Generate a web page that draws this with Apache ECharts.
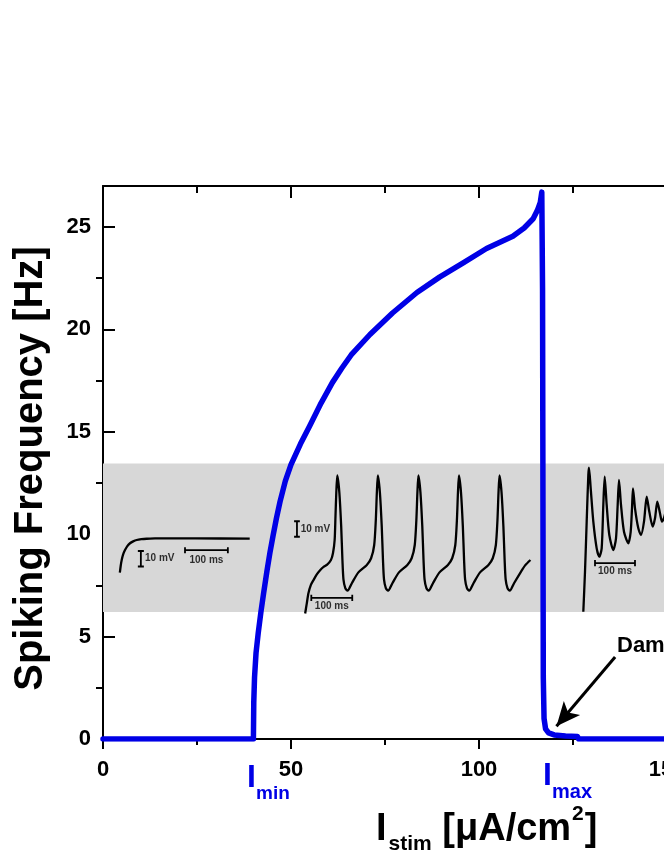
<!DOCTYPE html>
<html>
<head>
<meta charset="utf-8">
<script src="https://cdn.jsdelivr.net/npm/echarts@6/dist/echarts.min.js"></script>
<style>
  html, body { margin: 0; padding: 0; background: #fff; }
  #main { width: 664px; height: 860px; }
</style>
</head>
<body>
<div id="main"></div>
<script>
// f-I curve: stimulus current (uA/cm2) vs spiking frequency (Hz)
const stimCurrent = [0, 40.0, 40.1, 40.3, 40.7, 41.3, 42.0, 42.7, 43.6, 44.4, 45.2, 46.1, 47.1, 48.5, 50.0,
  52.5, 55.0, 58.0, 61.0, 63.5, 66.0, 71.0, 77.0, 83.5, 89.5, 95.8, 102.0, 109.0, 112.0, 114.4, 115.5,
  116.3, 116.7, 116.9, 117.1, 117.3, 117.7, 118.5, 120.0, 123.0, 126.2, 126.5, 150];
const spikeFreq = [0, 0, 1.8, 3.0, 4.2, 5.2, 6.2, 7.1, 8.2, 9.1, 9.9, 10.75, 11.6, 12.6, 13.4,
  14.4, 15.3, 16.4, 17.4, 18.1, 18.75, 19.75, 20.8, 21.8, 22.55, 23.25, 23.95, 24.55, 24.95, 25.4, 25.8,
  26.2, 26.7, 22.0, 3.0, 1.0, 0.5, 0.3, 0.2, 0.15, 0.12, 0, 0];

const xTicks = [0, 50, 100, 150];
const yTicks = [0, 5, 10, 15, 20, 25];
const yMinorTicks = [2.5, 7.5, 12.5, 17.5, 22.5];
const bandRange = [6.2, 13.45];

// inset traces: [time ms, voltage mV]
const restTrace = [[23, -74], [25, -69.5], [27.3, -65.8], [30.5, -62.3], [35, -59.4], [40, -57], [46.7, -55],
  [54, -53.8], [62.3, -52.9], [73, -52.4], [85.6, -52.1], [105, -51.9], [124, -51.8], [200, -51.9], [326, -52]];

const spikeTrace = [[12, -79], [16, -72.5], [20, -66], [26, -60.6], [32.5, -57.4], [40, -54], [49, -51], [57, -49],
  [65, -47.7], [75, -44.5], [80, -40], [84, -31.6], [86, -16.6], [88, -1.3], [90.5, 10],
  [92, 10], [95.5, -1], [100, -23], [103, -44.5], [105.5, -57], [110, -62.6], [115.5, -64.3], [126, -59.5],
  [142, -52.5], [162.5, -47.7], [173, -43.4], [180.5, -35], [184.5, -18.7], [187, -1.3], [189.5, 10],
  [191, 10], [194.5, -1], [199, -23], [202, -44.5], [204.5, -57], [209, -62.6], [214.5, -64.3], [225, -59.5],
  [241, -52.5], [261.5, -47.7], [272, -43.4], [279.5, -35], [283.5, -18.7], [286, -1.3], [288.5, 10],
  [290, 10], [293.5, -1], [298, -23], [301, -44.5], [303.5, -57], [308, -62.6], [313.5, -64.3], [324, -59.5],
  [340, -52.5], [360.5, -47.7], [371, -43.4], [378.5, -35], [382.5, -18.7], [385, -1.3], [387.5, 10],
  [389, 10], [392.5, -1], [397, -23], [400, -44.5], [402.5, -57], [407, -62.6], [412.5, -64.3], [423, -59.5],
  [439, -52.5], [459.5, -47.7], [470, -43.4], [477.5, -35], [481.5, -18.7], [484, -1.3], [486.5, 10],
  [488, 10], [491.5, -1], [496, -23], [499, -44.5], [501.5, -57], [506, -62.6], [511.5, -64.3], [522, -59.5],
  [538, -52.5], [549, -48], [562, -44.5]];

const dampedTrace = [[8.3, -77.9], [12.5, -52.1], [16.7, -19.8], [20.8, 10.3], [22.5, 15.0], [26.7, 1.9],
  [33.3, -19.8], [41.7, -37.0], [48.3, -42.4], [54.2, -37.0], [58.3, -9.0], [61.7, 9.2], [66.7, -9.0],
  [73.3, -28.4], [83.3, -38.1], [90, -30.5], [94.2, -9.0], [97.5, 7.1], [102.5, -9.0], [110, -26.3],
  [120.8, -33.7], [126.7, -26.3], [130, -11.2], [132.5, 1.7], [137.5, -11.2], [145.8, -24.1], [152.5, -28.4],
  [160, -19.8], [166.7, -3.7], [173.3, -13.4], [181.7, -23.0], [187.5, -17.6], [193.3, -6.9], [200, -14.4],
  [205, -19.8], [210, -17.4], [217.5, -11], [225, -16], [232, -18]];

// scale bars
const restMvBar = [[65, -70], [79, -70], [72, -70], [72, -60], [65, -60], [79, -60]];
const restMsBar = [[175, -57.5], [175, -61.5], [175, -59.4], [275, -59.4], [275, -57.5], [275, -61.5]];
const spikeMvBar = [[-15, -29.5], [-1, -29.5], [-8, -29.5], [-8, -19.5], [-15, -19.5], [-1, -19.5]];
const spikeMsBar = [[27, -67], [27, -71], [27, -69], [127, -69], [127, -67], [127, -71]];
const dampedMsBar = [[37.5, -44.5], [37.5, -48.5], [37.5, -46.5], [137.5, -46.5], [137.5, -44.5], [137.5, -48.5]];

const FONT = "'Liberation Sans', Arial, sans-serif";
const BLUE = '#0000e6';

let chart = echarts.init(document.getElementById('main'));

let hiddenAxis = (grid, min, max) => ({ gridIndex: grid, type: 'value', min: min, max: max, show: false });

let trace = (idx, data, width) => ({
  type: 'line', xAxisIndex: idx, yAxisIndex: idx, data: data, symbol: 'none', smooth: width ? false : 0.25,
  lineStyle: { color: '#000', width: width || 2.3 }, z: 6, silent: true, clip: false
});

let barLabel = (idx, t, v, text, align) => ({
  type: 'scatter', xAxisIndex: idx, yAxisIndex: idx, symbolSize: 0, silent: true, z: 7,
  data: [[t, v]],
  label: {
    show: true, position: 'inside', formatter: text, align: align,
    color: '#000', fontFamily: FONT, fontWeight: 'bold', fontSize: 10
  }
});

let option = {
  animation: false,
  backgroundColor: '#fff',
  grid: [
    { left: 103, top: 186, width: 564, height: 553, outerBoundsMode: 'none' },
    { left: 110, top: 520, width: 150, height: 62, outerBoundsMode: 'none' },
    { left: 290, top: 460, width: 256, height: 155, outerBoundsMode: 'none' },
    { left: 580, top: 460, width: 140, height: 155, outerBoundsMode: 'none' }
  ],
  xAxis: [
    {
      gridIndex: 0, type: 'value', min: 0, max: 150, interval: 50,
      axisLine: { onZero: false, lineStyle: { color: '#000', width: 2 } },
      axisTick: { length: 10, lineStyle: { color: '#000', width: 2 } },
      minorTick: { show: true, splitNumber: 2, length: 6, lineStyle: { color: '#000', width: 2 } },
      axisLabel: { margin: 20, color: '#000', fontFamily: FONT, fontWeight: 'bold', fontSize: 22,
        customValues: xTicks },
      splitLine: { show: false }
    },
    {
      gridIndex: 0, type: 'value', position: 'top', min: 0, max: 150, interval: 50,
      axisLine: { onZero: false, lineStyle: { color: '#000', width: 2 } },
      axisTick: { inside: true, length: 12, lineStyle: { color: '#000', width: 2 } },
      minorTick: { show: true, splitNumber: 2, length: 7, lineStyle: { color: '#000', width: 2 } },
      axisLabel: { show: false },
      splitLine: { show: false }
    },
    hiddenAxis(1, 0, 350),
    hiddenAxis(2, -25, 600),
    hiddenAxis(3, 0, 350)
  ],
  yAxis: [
    {
      gridIndex: 0, type: 'value', min: 0, max: 27,
      name: 'Spiking Frequency [Hz]', nameLocation: 'middle', nameGap: 52,
      nameTextStyle: { color: '#000', fontFamily: FONT, fontWeight: 'bold', fontSize: 40, padding: [0, 12, 0, 0] },
      axisLine: { onZero: false, lineStyle: { color: '#000', width: 2 } },
      axisTick: { inside: true, length: 12, customValues: yTicks, lineStyle: { color: '#000', width: 2 } },
      axisLabel: { margin: 12, color: '#000', fontFamily: FONT, fontWeight: 'bold', fontSize: 22,
        customValues: yTicks },
      splitLine: { show: false }
    },
    {
      gridIndex: 0, type: 'value', position: 'left', min: 0, max: 27,
      axisLine: { show: false },
      axisTick: { show: true, length: 7, customValues: yMinorTicks, lineStyle: { color: '#000', width: 2 } },
      axisLabel: { show: false },
      splitLine: { show: false }
    },
    hiddenAxis(1, -80, -40),
    hiddenAxis(2, -80, 20),
    hiddenAxis(3, -80, 20)
  ],
  series: [
    {
      type: 'line', xAxisIndex: 0, yAxisIndex: 0, symbol: 'none', z: 4, silent: true,
      data: stimCurrent.map((x, i) => [x, spikeFreq[i]]),
      lineStyle: { color: BLUE, width: 5.5, join: 'round', cap: 'round' },
      markArea: {
        silent: true,
        itemStyle: { color: '#d7d7d7' },
        data: [[{ yAxis: bandRange[0] }, { yAxis: bandRange[1] }]]
      },
      markLine: {
        silent: true,
        symbol: ['none', 'arrow'],
        symbolSize: [16, 24],
        label: { show: false },
        lineStyle: { color: '#000', width: 3, type: 'solid' },
        data: [[{ coord: [136.2, 4.0] }, { coord: [120.6, 0.62] }]]
      }
    },
    trace(2, restTrace),
    trace(2, restMvBar, 1.8),
    trace(2, restMsBar, 1.8),
    barLabel(2, 81.7, -64.5, '10 mV', 'left'),
    barLabel(2, 225, -66, '100 ms', 'center'),
    trace(3, spikeTrace),
    trace(3, spikeMvBar, 1.8),
    trace(3, spikeMsBar, 1.8),
    barLabel(3, 1, -24.5, '10 mV', 'left'),
    barLabel(3, 77, -74.5, '100 ms', 'center'),
    trace(4, dampedTrace),
    trace(4, dampedMsBar, 1.8),
    barLabel(4, 87.5, -52, '100 ms', 'center')
  ],
  graphic: [
    { type: 'text', left: 247, top: 762, style: { text: 'I', fill: BLUE, font: "bold 32px " + FONT } },
    { type: 'text', left: 256, top: 784, style: { text: 'min', fill: BLUE, font: "bold 19px " + FONT } },
    { type: 'text', left: 543, top: 760, style: { text: 'I', fill: BLUE, font: "bold 32px " + FONT } },
    { type: 'text', left: 552, top: 782, style: { text: 'max', fill: BLUE, font: "bold 20px " + FONT } },
    { type: 'text', left: 617, top: 635, style: { text: 'Damped oscillations', fill: '#000', font: "bold 22px " + FONT } },
    {
      type: 'text', left: 376, top: 804,
      style: {
        text: '{big|I}{sub|stim}{big| [μA/cm}{sup|2}{big|]}',
        fill: '#000',
        rich: {
          big: { fontSize: 38, fontWeight: 'bold', fontFamily: FONT, lineHeight: 40, verticalAlign: 'bottom', padding: [0, 0, 6, 0] },
          sub: { fontSize: 21, fontWeight: 'bold', fontFamily: FONT, lineHeight: 22, verticalAlign: 'bottom', padding: [0, 0, 0, 2] },
          sup: { fontSize: 21, fontWeight: 'bold', fontFamily: FONT, lineHeight: 22, verticalAlign: 'bottom', padding: [0, 1, 30, 1] }
        }
      }
    }
  ]
};

chart.setOption(option);
</script>
</body>
</html>
